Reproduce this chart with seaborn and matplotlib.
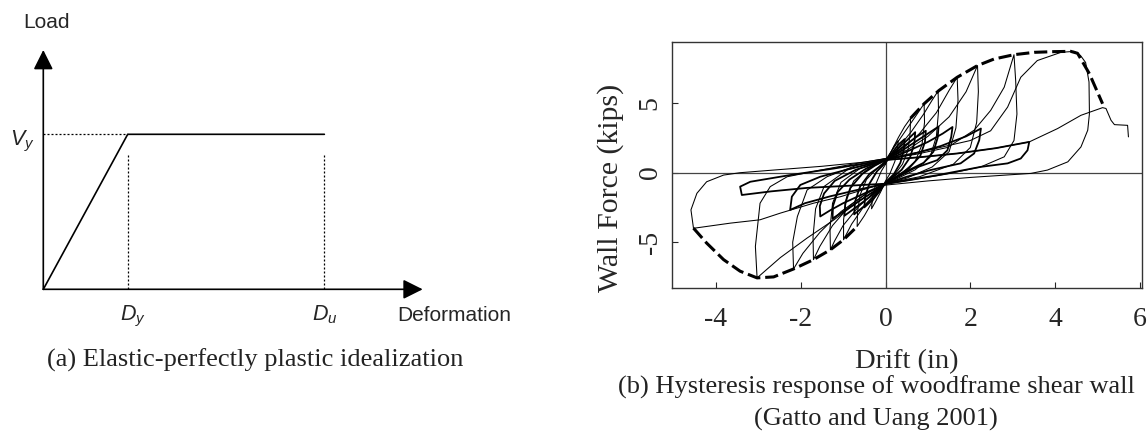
import matplotlib
matplotlib.use("Agg")
import matplotlib.pyplot as plt
import seaborn as sns

# ---------------- data: (a) elastic-perfectly plastic idealization ----------------
Dy, Du, Vy = 1.0, 3.33, 1.0
epp_deformation = [0.0, Dy, Du]
epp_load = [0.0, Vy, Vy]
guide_top = 0.87 * Vy          # top of the dotted guides at Dy and Du

# ---------------- data: (b) hysteresis of woodframe shear wall ----------------
# primary cycles (drift in, force kips)
c1_x = [0, 0.1, 0.2, 0.3, 0.28, 0.22, 0.1, 0, -0.1, -0.22, -0.33, -0.31, -0.24, -0.1, 0]
c1_y = [0.6, 1.3, 1.9, 2.3, 1.6, 0.8, -0.1, -0.6, -1.3, -2.0, -2.6, -1.8, -0.9, 0.1, 0.6]
c2_x = [0, 0.15, 0.3, 0.45, 0.59, 0.58, 0.53, 0.4, 0.2, 0, -0.2, -0.35, -0.5, -0.67, -0.66, -0.6, -0.45, -0.2, 0]
c2_y = [0.8, 1.6, 2.5, 3.3, 3.9, 2.8, 1.6, 0.6, -0.2, -0.8, -1.5, -2.3, -3.1, -3.87, -2.8, -1.6, -0.5, 0.3, 0.8]
c3_x = [0, 0.2, 0.45, 0.7, 0.91, 0.92, 0.86, 0.7, 0.4, 0, -0.25, -0.55, -0.8, -0.99, -0.99, -0.92, -0.75, -0.4, 0]
c3_y = [0.9, 1.8, 2.9, 4.0, 4.94, 3.6, 2.0, 0.8, 0.0, -0.8, -1.6, -2.6, -3.7, -4.82, -3.4, -1.8, -0.6, 0.3, 0.9]
c4_x = [0, 0.3, 0.6, 0.9, 1.1, 1.24, 1.25, 1.2, 1.05, 0.7, 0.3, 0, -0.3, -0.65, -1.0, -1.2, -1.3, -1.31, -1.25, -1.05, -0.6, 0]
c4_y = [0.9, 1.8, 2.9, 4.2, 5.2, 5.85, 4.4, 2.6, 1.1, 0.2, -0.4, -0.8, -1.5, -2.5, -3.8, -4.9, -5.54, -4.0, -2.2, -0.7, 0.3, 0.9]
c5_x = [0, 0.4, 0.8, 1.2, 1.5, 1.69, 1.71, 1.66, 1.5, 1.1, 0.5, 0, -0.4, -0.85, -1.25, -1.55, -1.7, -1.71, -1.65, -1.45, -0.9, 0]
c5_y = [0.95, 1.7, 2.8, 4.3, 5.9, 6.84, 5.2, 3.2, 1.5, 0.4, -0.4, -0.8, -1.4, -2.4, -3.8, -5.3, -6.25, -4.6, -2.6, -1.0, 0.2, 0.95]
c6_x = [0, 0.5, 1.0, 1.5, 1.9, 2.17, 2.19, 2.15, 2.0, 1.6, 0.8, 0, -0.5, -1.05, -1.55, -1.95, -2.17, -2.19, -2.08, -1.85, -1.38, -0.7, 0]
c6_y = [1.0, 1.6, 2.6, 4.0, 5.8, 7.68, 5.8, 3.6, 1.8, 0.6, -0.3, -0.8, -1.6, -2.8, -4.3, -5.8, -6.92, -5.0, -3.16, -1.25, -0.3, 0.5, 1.0]
c7_x = [0, 0.7, 1.46, 2.09, 2.48, 2.8, 3.03, 3.07, 3.1, 3.03, 2.8, 2.25, 1.46, 0.7, 0,
        -0.6, -1.22, -1.85, -2.48, -3.03, -3.07, -2.96, -2.72, -2.32, -1.5, -0.6, 0]
c7_y = [1.0, 1.3, 1.8, 3.04, 4.46, 6.13, 8.46, 6.6, 4.2, 2.3, 1.13, 0.41, -0.1, -0.5, -0.85,
        -2.0, -3.4, -4.7, -6.1, -7.56, -5.3, -2.2, -1.01, -0.3, 0.2, 0.7, 1.0]
c8_x = [0, 1.0, 2.0, 2.48, 2.88, 3.19, 3.58, 4.14, 4.45, 4.6, 4.72, 4.8, 4.81, 4.77, 4.61, 4.3, 3.82, 3.43, 2.0, 1.0, 0,
        -0.28, -1.06, -1.7, -2.48, -2.96, -3.66, -4.53, -4.59, -4.45, -4.22, -3.82, -3.43, -2.64, -1.5, -0.5, 0]
c8_y = [1.0, 1.6, 2.3, 3.0, 4.7, 6.84, 8.04, 8.63, 8.7, 8.4, 7.9, 6.5, 4.23, 3.04, 1.84, 0.77, 0.18, -0.06, -0.35, -0.6, -0.9,
        -1.0, -1.73, -2.2, -2.91, -3.39, -3.63, -4.0, -2.68, -1.49, -0.66, -0.18, -0.01, 0.18, 0.45, 0.75, 1.0]
final_x = [0, 0.8, 1.69, 2.6, 3.39, 4.06, 4.61, 5.12, 5.2, 5.32, 5.4, 5.71, 5.73]
final_y = [0.9, 1.1, 1.37, 1.75, 2.2, 3.16, 4.11, 4.66, 4.6, 3.75, 3.44, 3.39, 2.56]

# trailing (repeated, reduced amplitude) cycles
t2_x = [0, 0.15, 0.3, 0.45, 0.43, 0.35, 0.2, 0, -0.15, -0.32, -0.5, -0.48, -0.38, -0.2, 0]
t2_y = [0.7, 1.4, 2.0, 2.4, 1.6, 0.7, -0.1, -0.7, -1.4, -2.0, -2.5, -1.7, -0.8, 0.1, 0.7]
t3_x = [0, 0.25, 0.5, 0.7, 0.68, 0.58, 0.38, 0.15, 0, -0.25, -0.5, -0.74, -0.72, -0.6, -0.38, -0.15, 0]
t3_y = [0.8, 1.6, 2.3, 2.9, 2.1, 1.1, 0.2, -0.4, -0.8, -1.6, -2.4, -3.0, -2.1, -1.0, -0.1, 0.4, 0.8]
t4_x = [0, 0.35, 0.7, 0.95, 0.93, 0.82, 0.55, 0.25, 0, -0.35, -0.7, -0.97, -0.95, -0.83, -0.55, -0.25, 0]
t4_y = [0.9, 1.7, 2.5, 3.0, 2.2, 1.2, 0.3, -0.3, -0.8, -1.7, -2.5, -3.1, -2.2, -1.1, -0.1, 0.5, 0.9]
t5_x = [0, 0.4, 0.8, 1.05, 1.25, 1.23, 1.13, 0.9, 0.5, 0, -0.4, -0.8, -1.05, -1.25, -1.24, -1.13, -0.85, -0.45, 0]
t5_y = [0.9, 1.6, 2.4, 2.9, 3.3, 2.5, 1.5, 0.7, 0.1, -0.8, -1.6, -2.4, -2.9, -3.3, -2.4, -1.4, -0.5, 0.3, 0.9]
t6_x = [0, 0.5, 1.0, 1.35, 1.58, 1.55, 1.46, 1.22, 0.67, 0.3, 0, -0.5, -1.0, -1.3, -1.54, -1.55, -1.45, -1.2, -0.7, 0]
t6_y = [0.9, 1.5, 2.2, 2.8, 3.27, 2.56, 1.6, 0.89, 0.3, -0.3, -0.8, -1.5, -2.2, -2.7, -3.15, -2.4, -1.5, -0.6, 0.2, 0.9]
t7_x = [0, 0.6, 1.3, 1.9, 2.25, 2.21, 2.09, 1.77, 1.06, 0.5, 0, -0.6, -1.3, -1.9, -2.25, -2.21, -2.01, -1.54, -0.8, 0]
t7_y = [0.9, 1.3, 1.9, 2.6, 3.16, 2.32, 1.37, 0.66, 0.18, -0.3, -0.8, -1.2, -1.7, -2.2, -2.68, -1.73, -0.89, -0.3, 0.3, 0.9]
t8_x = [0, 0.8, 1.69, 2.6, 3.39, 3.35, 3.19, 2.88, 2.25, 1.2, 0, -0.3, -0.9, -1.85, -2.7, -3.39, -3.43, -3.19, -2.25, -1.2, 0]
t8_y = [0.9, 1.1, 1.37, 1.75, 2.2, 1.6, 1.01, 0.66, 0.41, -0.2, -0.8, -0.85, -0.95, -1.1, -1.35, -1.61, -1.01, -0.66, -0.18, 0.3, 0.9]

# backbone envelopes (dashed)
env_pos_x = [0.59, 0.91, 1.26, 1.69, 2.17, 2.56, 3.03, 3.51, 3.98, 4.37, 4.53, 4.81, 5.12]
env_pos_y = [3.9, 4.94, 5.89, 6.84, 7.68, 8.15, 8.46, 8.63, 8.68, 8.70, 8.56, 7.09, 4.94]
env_neg_x = [-4.53, -4.22, -3.82, -3.43, -3.03, -2.64, -2.17, -1.70, -1.30, -0.99, -0.67]
env_neg_y = [-3.99, -5.06, -6.25, -7.08, -7.56, -7.49, -6.92, -6.25, -5.54, -4.82, -3.87]

x_ticks = [-4, -2, 0, 2, 4, 6]
y_ticks = [-5, 0, 5]

# ---------------- style ----------------
sns.set_style("white")
plt.rcParams["font.family"] = ["Liberation Serif", "DejaVu Serif"]
plt.rcParams["axes.unicode_minus"] = False
plt.rcParams["mathtext.fontset"] = "custom"
plt.rcParams["mathtext.it"] = "Liberation Sans:italic"
plt.rcParams["mathtext.rm"] = "Liberation Sans"

W, H = 1147, 432
fig = plt.figure(figsize=(W / 100, H / 100), dpi=100)


def fpos(px, py):
    return px / W, 1 - py / H


# ---------------- panel (a) ----------------
ax_a = fig.add_axes([0, 0, 520 / W, 1])
ax_a.set_xlim(-0.513, 5.648)
ax_a.set_ylim(-0.9206, 1.8665)
ax_a.axis("off")

arrow = dict(arrowstyle="-|>,head_length=0.6,head_width=0.3", mutation_scale=20,
             lw=1.2, color="black", shrinkA=0, shrinkB=0)
ax_a.annotate("", xy=(4.495, 0), xytext=(0, 0), arrowprops=arrow)
ax_a.annotate("", xy=(0, 1.544), xytext=(0, 0), arrowprops=arrow)

sns.lineplot(x=epp_deformation, y=epp_load, sort=False, estimator=None,
             color="black", lw=1.2, ax=ax_a)
dot = (0, (1.6, 1.6))
ax_a.plot([0, Dy], [Vy, Vy], color="black", lw=0.9, ls=dot)
ax_a.plot([Dy, Dy], [0, guide_top], color="black", lw=0.9, ls=dot)
ax_a.plot([Du, Du], [0, guide_top], color="black", lw=0.9, ls=dot)

sans = ["Liberation Sans", "DejaVu Sans"]
fig.text(*fpos(23, 28.3), "Load", family=sans, fontsize=15, va="baseline", ha="left")
fig.text(*fpos(10, 145), r"$V_y$", fontsize=15.5, va="baseline", ha="left")
fig.text(*fpos(120, 320.7), r"$D_y$", fontsize=15.5, va="baseline", ha="left")
fig.text(*fpos(312, 320.7), r"$D_u$", fontsize=15.5, va="baseline", ha="left")
fig.text(*fpos(397, 320.7), "Deformation", family=sans, fontsize=15, va="baseline", ha="left")
fig.text(*fpos(255.5, 360), "(a) Elastic-perfectly plastic idealization",
         fontsize=19, ha="center", va="center", color="#222222")

# ---------------- panel (b) ----------------
ax_b = fig.add_axes([672.3 / W, (H - 287.5) / H, (1142 - 672.3) / W, (287.5 - 42.3) / H])
ax_b.set_xlim(-5.03, 6.05)
ax_b.set_ylim(-8.25, 9.35)

ax_b.axhline(0, color="#444444", lw=0.9, zorder=1)
ax_b.axvline(0, color="#444444", lw=0.9, zorder=1)

primary = [(c1_x, c1_y), (c2_x, c2_y), (c3_x, c3_y), (c4_x, c4_y), (c5_x, c5_y),
           (c6_x, c6_y), (c7_x, c7_y), (c8_x, c8_y), (final_x, final_y)]
trailing = [(t2_x, t2_y), (t3_x, t3_y), (t4_x, t4_y), (t5_x, t5_y),
            (t6_x, t6_y), (t7_x, t7_y), (t8_x, t8_y)]
for xs, ys in primary:
    sns.lineplot(x=xs, y=ys, sort=False, estimator=None, color="black", lw=0.75, ax=ax_b)
for xs, ys in trailing:
    sns.lineplot(x=xs, y=ys, sort=False, estimator=None, color="black", lw=1.3, ax=ax_b)
for xs, ys in [(env_pos_x, env_pos_y), (env_neg_x, env_neg_y)]:
    sns.lineplot(x=xs, y=ys, sort=False, estimator=None, color="black", lw=2.2,
                 linestyle=(0, (4.3, 1.6)), ax=ax_b)

ax_b.set_xticks(x_ticks)
ax_b.set_yticks(y_ticks)
ax_b.set_xticklabels([str(v) for v in x_ticks], fontsize=20)
ax_b.set_yticklabels([str(v) for v in y_ticks], fontsize=20, rotation=90, va="center")
ax_b.tick_params(axis="x", direction="in", length=4, width=0.8, pad=14, bottom=True, top=False)
ax_b.tick_params(axis="y", direction="in", length=4, width=0.8, pad=7, left=True, right=False)
for s in ax_b.spines.values():
    s.set_color("#333333")
    s.set_linewidth(1.0)

ax_b.set_xlabel("Drift (in)", fontsize=20.5)
ax_b.xaxis.label.set_va("center")
ax_b.xaxis.set_label_coords(0.5, (287.5 - 362) / 245.2)
ax_b.set_ylabel("Wall Force (kips)", fontsize=21.5)
ax_b.yaxis.label.set_va("center")
ax_b.yaxis.set_label_coords((611 - 672.3) / 469.7, (287.5 - 188) / 245.2)

fig.text(*fpos(876.5, 387.5), "(b) Hysteresis response of woodframe shear wall",
         fontsize=19, ha="center", va="center", color="#222222")
fig.text(*fpos(876, 419), "(Gatto and Uang 2001)",
         fontsize=19, ha="center", va="center", color="#222222")

fig.savefig("out.png", dpi=100)
